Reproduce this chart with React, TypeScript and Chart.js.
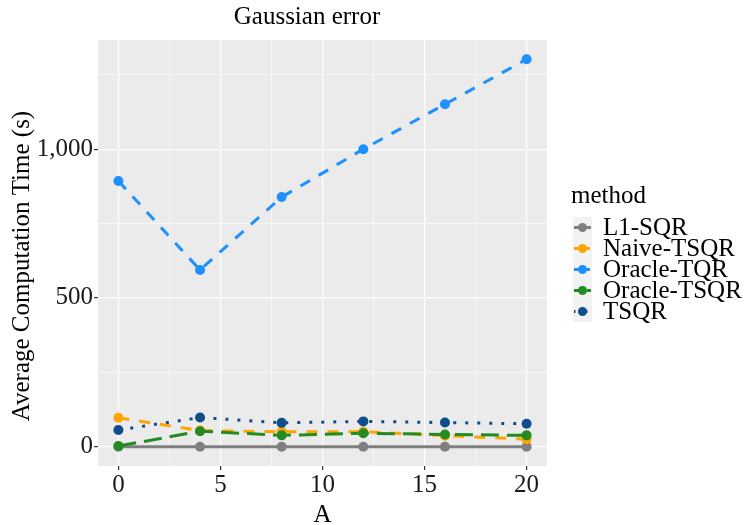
import React, { useEffect, useRef } from "react";
import { Chart, registerables } from "chart.js";

Chart.register(...registerables);

// ---- data ----
const xValues = [0, 4, 8, 12, 16, 20];
const methods = ["L1-SQR", "Naive-TSQR", "Oracle-TQR", "Oracle-TSQR", "TSQR"];
const l1Sqr = [0, 0, 0, 0, 0, 0];
const naiveTsqr = [97, 54, 50, 50, 37, 25];
const oracleTqr = [893, 594, 839, 1000, 1151, 1302];
const oracleTsqr = [2, 52, 38, 45, 41, 38];
const tsqr = [56, 98, 80, 85, 81, 77];
const xTickValues = [0, 5, 10, 15, 20];
const yTickValues = [0, 500, 1000];
const chartTitle = "Gaussian error";
const xTitle = "A";
const yTitle = "Average Computation Time (s)";
const legendTitle = "method";

// ---- styles ----
const seriesValues = [l1Sqr, naiveTsqr, oracleTqr, oracleTsqr, tsqr];
const colors = ["#7F7F7F", "#FFA500", "#1E90FF", "#228B22", "#104E8B"];
const dashes: number[][] = [[], [11, 10], [11, 10], [18, 8], [3, 9]];
const FONT = "'Liberation Serif', 'Times New Roman', serif";
const TXT = 25;

function withMinors(major: number[]): number[] {
  const out: number[] = [];
  for (let i = 0; i < major.length; i++) {
    out.push(major[i]);
    if (i < major.length - 1) out.push((major[i] + major[i + 1]) / 2);
  }
  return out;
}

const panelPlugin = {
  id: "panelBg",
  beforeDraw(chart: any) {
    const { ctx, chartArea } = chart;
    ctx.save();
    ctx.fillStyle = "#FFFFFF";
    ctx.fillRect(0, 0, chart.width, chart.height);
    ctx.fillStyle = "#EBEBEB";
    ctx.fillRect(chartArea.left, chartArea.top, chartArea.right - chartArea.left, chartArea.bottom - chartArea.top);
    ctx.restore();
  },
};

const decorPlugin = {
  id: "decor",
  afterDraw(chart: any) {
    const { ctx } = chart;
    ctx.save();
    ctx.fillStyle = "#000";
    ctx.font = `${TXT}px ${FONT}`;
    ctx.textAlign = "center";
    ctx.textBaseline = "middle";
    // title
    ctx.fillText(chartTitle, 307, 17);
    // y-axis title
    ctx.save();
    ctx.translate(22, 266);
    ctx.rotate(-Math.PI / 2);
    ctx.fillText(yTitle, 0, 0);
    ctx.restore();
    // legend
    ctx.textAlign = "left";
    ctx.fillText(legendTitle, 571, 196);
    const rowH = 21;
    const top = 217;
    const keyL = 573;
    const keyW = 19;
    ctx.fillStyle = "#F2F2F2";
    ctx.fillRect(keyL, top, keyW, rowH * methods.length);
    methods.forEach((m, i) => {
      const cy = top + rowH * i + rowH / 2;
      ctx.strokeStyle = colors[i];
      ctx.lineWidth = 3;
      ctx.setLineDash(dashes[i].length ? dashes[i].map((d) => d * 0.5) : []);
      ctx.beginPath();
      ctx.moveTo(keyL + 1, cy);
      ctx.lineTo(keyL + keyW - 1, cy);
      ctx.stroke();
      ctx.setLineDash([]);
      ctx.fillStyle = colors[i];
      ctx.beginPath();
      ctx.arc(keyL + keyW / 2, cy, 4.5, 0, Math.PI * 2);
      ctx.fill();
      ctx.fillStyle = "#000";
      ctx.fillText(m, 603, cy + 1);
    });
    ctx.restore();
  },
};

export default function App() {
  const ref = useRef<HTMLCanvasElement | null>(null);
  useEffect(() => {
    if (!ref.current) return;
    Chart.defaults.font.family = FONT;
    const lineSets = seriesValues.map((vals, i) => ({
      label: methods[i],
      data: xValues.map((x, j) => ({ x, y: vals[j] })),
      showLine: true,
      borderColor: colors[i],
      backgroundColor: colors[i],
      borderWidth: 3,
      borderDash: dashes[i],
      pointRadius: 0,
      pointHoverRadius: 0,
      tension: 0,
      order: 20 - i,
    }));
    const pointSets = seriesValues.map((vals, i) => ({
      label: methods[i] + " pts",
      data: xValues.map((x, j) => ({ x, y: vals[j] })),
      showLine: false,
      borderColor: colors[i],
      backgroundColor: colors[i],
      pointBackgroundColor: colors[i],
      pointBorderWidth: 0,
      pointRadius: 5,
      order: 10 - i,
    }));
    const xTicks = withMinors(xTickValues);
    const yTicks = withMinors(yTickValues).concat([1250]);
    const isMajorX = (v: number) => xTickValues.includes(v);
    const isMajorY = (v: number) => yTickValues.includes(v);
    const chart = new Chart(ref.current, {
      type: "scatter",
      data: { datasets: [...lineSets, ...pointSets] as any },
      plugins: [panelPlugin, decorPlugin],
      options: {
        animation: false,
        responsive: false,
        devicePixelRatio: 1,
        layout: { padding: { top: 40, right: 198, left: 0, bottom: 0 } },
        plugins: { legend: { display: false }, title: { display: false }, tooltip: { enabled: false } },
        scales: {
          x: {
            type: "linear",
            min: -1,
            max: 21,
            afterBuildTicks: (s: any) => {
              s.ticks = xTicks.map((v) => ({ value: v }));
            },
            afterFit: (s: any) => {
              s.height = 59;
            },
            border: { display: false },
            grid: {
              color: "#FFFFFF",
              lineWidth: (c: any) => (c.tick && isMajorX(c.tick.value) ? 1.2 : 0.6),
              tickColor: (c: any) => (c.tick && isMajorX(c.tick.value) ? "#333333" : "rgba(0,0,0,0)"),
              tickLength: 4,
              drawTicks: true,
            },
            ticks: {
              autoSkip: false,
              maxRotation: 0,
              padding: 0,
              color: "#1A1A1A",
              font: { size: TXT, family: FONT },
              callback: (v: any) => (isMajorX(Number(v)) ? String(v) : ""),
            },
            title: {
              display: true,
              text: xTitle,
              color: "#000",
              font: { size: TXT, family: FONT, lineHeight: 0.75 },
              padding: 0,
            },
          },
          y: {
            type: "linear",
            min: -65,
            max: 1367,
            afterBuildTicks: (s: any) => {
              s.ticks = yTicks.map((v) => ({ value: v }));
            },
            afterFit: (s: any) => {
              s.width = 98;
            },
            border: { display: false },
            grid: {
              color: "#FFFFFF",
              lineWidth: (c: any) => (c.tick && isMajorY(c.tick.value) ? 1.2 : 0.6),
              tickColor: (c: any) => (c.tick && isMajorY(c.tick.value) ? "#333333" : "rgba(0,0,0,0)"),
              tickLength: 4,
              drawTicks: true,
            },
            ticks: {
              autoSkip: false,
              padding: 1,
              color: "#1A1A1A",
              font: { size: TXT, family: FONT },
              callback: (v: any) => (isMajorY(Number(v)) ? Number(v).toLocaleString("en-US") : ""),
            },
            title: { display: false },
          },
        },
      } as any,
    });
    return () => chart.destroy();
  }, []);
  return (
    <div style={{ position: "absolute", left: 0, top: 0, width: 745, height: 525, background: "#fff" }}>
      <canvas ref={ref} width={745} height={525} />
    </div>
  );
}
